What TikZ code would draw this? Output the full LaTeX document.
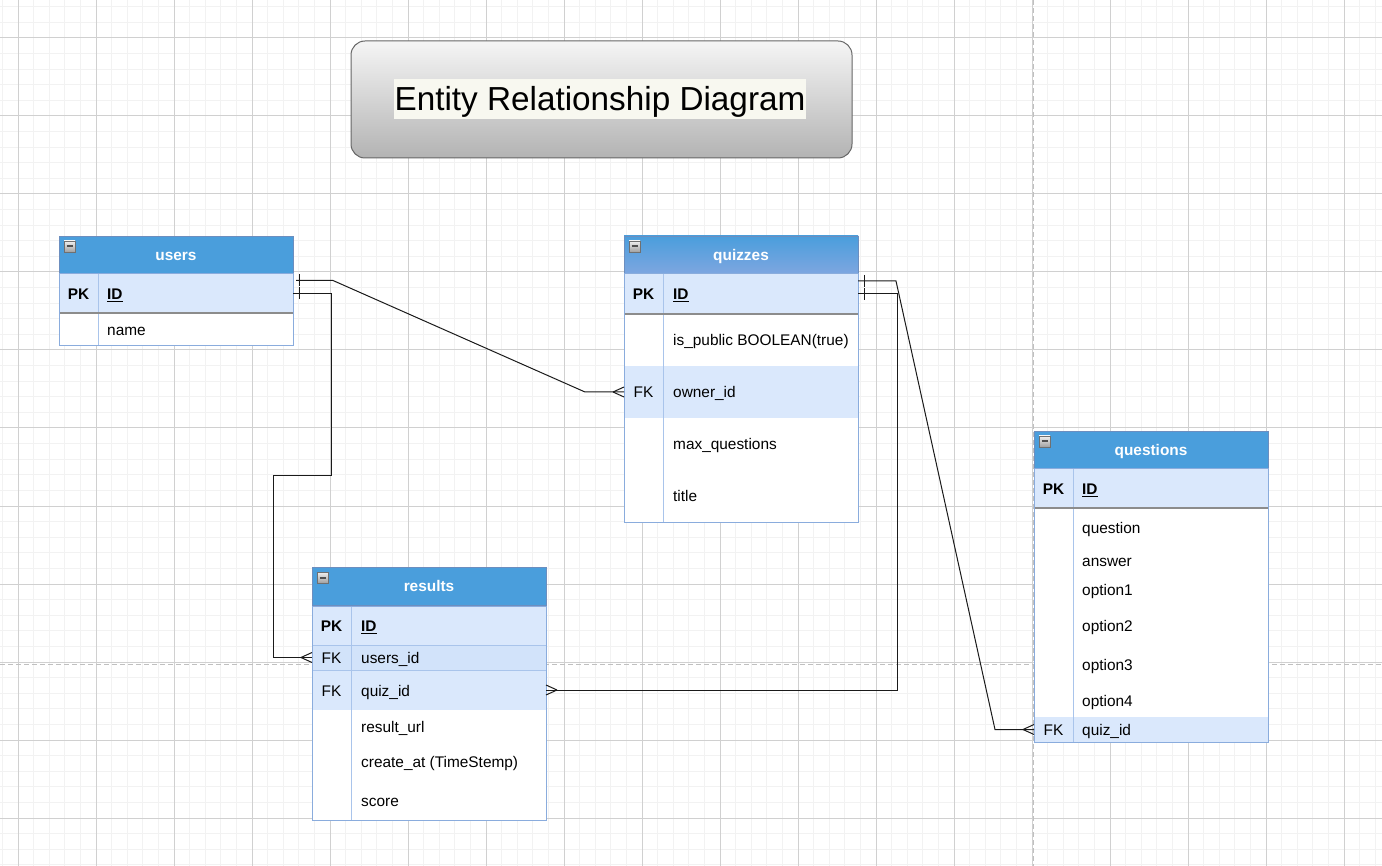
\documentclass[tikz,border=0pt]{standalone}
\usepackage{fontspec}
\setmainfont{Liberation Sans}
\begin{document}
\begin{tikzpicture}[x=1pt,y=-1pt,
  minorgrid/.style={line width=1pt, custcol_f2_f2_f2},
  majorgrid/.style={line width=1pt, custcol_d0_d0_d0},
  pagebreak/.style={line width=1pt, custcol_c0_c0_c0, dash pattern=on 5pt off 3pt},
  hdr/.style={rectangle, anchor=north west, inner sep=0, outer sep=0, minimum width=234pt, minimum height=38pt, fill=custcol_4a_9e_dc, draw=custcol_6c_8e_bf, text=white, text height=10.7pt, text depth=0pt, font=\fontsize{15.4}{18}\selectfont\bfseries},
  row/.style={rectangle, anchor=north west, inner sep=0, outer sep=0, minimum width=234pt, fill=white},
  keyrow/.style={row, fill=custcol_da_e8_fc},
  keytxt/.style={inner sep=0, text height=10.7pt, text depth=0pt, font=\fontsize{15.4}{18}\selectfont},
  fldtxt/.style={keytxt, anchor=west},
  tabline/.style={line width=1pt, custcol_a9_c4_eb},
  pkline/.style={line width=1.2pt, custcol_8c_8c_8c},
  tabframe/.style={line width=1pt, custcol_8a_ac_dd},
  rel/.style={line width=1pt, custcol_1a_1a_1a},
  onebar/.pic={\draw[rel] (6,-6) -- (6,6);},
  crowfoot/.pic={\draw[rel] (-11,0) -- (0,-5) (-11,0) -- (0,5);},
  minusbtn/.pic={\draw[line width=0.8pt, custcol_70_70_70, top color=custcol_f0_f0_f0, bottom color=custcol_a0_a0_a0] (5,5) rectangle (16,16);
                 \draw[line width=2pt, custcol_50_50_50] (7.5,10.5) -- (13.5,10.5);}]
\definecolor{custcol_f0_f0_f0}{RGB}{240, 240, 240}
\definecolor{custcol_f2_f2_f2}{RGB}{242, 242, 242}
\definecolor{custcol_d0_d0_d0}{RGB}{208, 208, 208}
\definecolor{custcol_c0_c0_c0}{RGB}{192, 192, 192}
\definecolor{custcol_4a_9e_dc}{RGB}{74, 158, 220}
\definecolor{custcol_7e_a6_e0}{RGB}{126, 166, 224}
\definecolor{custcol_6c_8e_bf}{RGB}{108, 142, 191}
\definecolor{custcol_da_e8_fc}{RGB}{218, 232, 252}
\definecolor{custcol_d2_e3_fa}{RGB}{210, 227, 250}
\definecolor{custcol_a9_c4_eb}{RGB}{169, 196, 235}
\definecolor{custcol_8c_8c_8c}{RGB}{140, 140, 140}
\definecolor{custcol_8a_ac_dd}{RGB}{138, 172, 221}
\definecolor{custcol_1a_1a_1a}{RGB}{26, 26, 26}
\definecolor{custcol_70_70_70}{RGB}{112, 112, 112}
\definecolor{custcol_50_50_50}{RGB}{80, 80, 80}
\definecolor{custcol_a0_a0_a0}{RGB}{160, 160, 160}
\definecolor{custcol_f5_f5_f5}{RGB}{245, 245, 245}
\definecolor{custcol_b3_b3_b3}{RGB}{179, 179, 179}
\definecolor{custcol_66_66_66}{RGB}{102, 102, 102}
\definecolor{custcol_f8_f8_f0}{RGB}{248, 248, 240}
\useasboundingbox (0,0) rectangle (1382,866);
\fill[white] (0,0) rectangle (1382,866);
% grid
\foreach \k in {-1,...,88} \draw[minorgrid] ({18+15.6*\k},0) -- ++(0,866);
\foreach \k in {-2,...,53} \draw[minorgrid] (0,{38+15.6*\k}) -- ++(1382,0);
\foreach \k in {0,...,17} \draw[majorgrid] ({18+78*\k},0) -- ++(0,866);
\foreach \k in {0,...,10} \draw[majorgrid] (0,{38+78*\k}) -- ++(1382,0);
\draw[pagebreak] (1033,0) -- (1033,866);
\draw[pagebreak] (0,664) -- (1382,664);
% title
\node[rectangle, rounded corners=14pt, minimum width=501pt, minimum height=117pt, line width=1pt, draw=custcol_66_66_66, top color=custcol_f5_f5_f5, bottom color=custcol_b3_b3_b3] (titleBox) at (601.5,99.5) {};
\node[fill=custcol_f8_f8_f0, inner xsep=1pt, inner ysep=0, minimum height=40pt, text height=24pt, text depth=0pt, font=\fontsize{33.3}{40}\selectfont] (title) at (600,99) {Entity Relationship Diagram};
% users
\node[hdr] (usersHdr) at (59,236) {users};
\node[keyrow, minimum height=39pt] (usersID) at (59,274) {};
\node[row, minimum height=33pt] (usersName) at (59,313) {};
\draw[tabline] (98,274) -- (98,346);
\draw[pkline] (59,313) -- (293,313);
\draw[tabframe] (59,274) rectangle (293,346);
\pic at (usersHdr.north west) {minusbtn};
\node[keytxt] at (78.5,294) {\textbf{PK}};
\node[fldtxt] at (107,294) {\textbf{\underline{ID}}};
\node[fldtxt] at (107,330) {name};
% quizzes
\node[hdr, top color=custcol_4a_9e_dc, bottom color=custcol_7e_a6_e0] (quizHdr) at (624,236) {quizzes};
\node[keyrow, minimum height=40pt] (quizID) at (624,274) {};
\node[row, minimum height=52pt] (quizPublic) at (624,314) {};
\node[keyrow, minimum height=52pt] (quizOwner) at (624,366) {};
\node[row, minimum height=52pt] (quizMax) at (624,418) {};
\node[row, minimum height=52pt] (quizTitle) at (624,470) {};
\draw[tabline] (663,274) -- (663,522);
\draw[pkline] (624,314) -- (858,314);
\draw[tabframe] (624,274) rectangle (858,522);
\pic at (quizHdr.north west) {minusbtn};
\node[keytxt] at (643.5,294) {\textbf{PK}};
\node[fldtxt] at (673,294) {\textbf{\underline{ID}}};
\node[fldtxt] at (673,340) {is\_public BOOLEAN(true)};
\node[keytxt] at (643.5,392) {FK};
\node[fldtxt] at (673,392) {owner\_id};
\node[fldtxt] at (673,444) {max\_questions};
\node[fldtxt] at (673,496) {title};
% questions
\node[hdr] (qHdr) at (1034,431) {questions};
\node[keyrow, minimum height=39pt] (qID) at (1034,469) {};
\node[row, minimum height=209pt] (qBody) at (1034,508) {};
\node[keyrow, minimum height=25pt] (qQuiz) at (1034,717) {};
\draw[tabline] (1073,469) -- (1073,742);
\draw[pkline] (1034,508) -- (1268,508);
\draw[tabframe] (1034,469) rectangle (1268,742);
\pic at (qHdr.north west) {minusbtn};
\node[keytxt] at (1053.5,489) {\textbf{PK}};
\node[fldtxt] at (1082,489) {\textbf{\underline{ID}}};
\node[fldtxt] at (1082,528) {question};
\node[fldtxt] at (1082,561) {answer};
\node[fldtxt] at (1082,590) {option1};
\node[fldtxt] at (1082,626) {option2};
\node[fldtxt] at (1082,665) {option3};
\node[fldtxt] at (1082,701) {option4};
\node[keytxt] at (1053.5,730) {FK};
\node[fldtxt] at (1082,730) {quiz\_id};
% results
\node[hdr] (resHdr) at (312,567) {results};
\node[keyrow, minimum height=39pt] (resID) at (312,606) {};
\node[keyrow, fill=custcol_d2_e3_fa, minimum height=25pt] (resUsers) at (312,645) {};
\node[keyrow, minimum height=40pt] (resQuiz) at (312,670) {};
\node[row, minimum height=110pt] (resBody) at (312,710) {};
\draw[tabline] (351,606) -- (351,820);
\draw[tabline] (312,645) -- (546,645) (312,670) -- (546,670);
\draw[tabframe] (312,606) rectangle (546,820);
\pic at (resHdr.north west) {minusbtn};
\node[keytxt] at (331.5,626) {\textbf{PK}};
\node[fldtxt] at (361,626) {\textbf{\underline{ID}}};
\node[keytxt] at (331.5,658) {FK};
\node[fldtxt] at (361,658) {users\_id};
\node[keytxt] at (331.5,691) {FK};
\node[fldtxt] at (361,691) {quiz\_id};
\node[fldtxt] at (361,727) {result\_url};
\node[fldtxt] at (361,762) {create\_at (TimeStemp)};
\node[fldtxt] at (361,801) {score};
% relations
\draw[rel] ([xshift=3pt,yshift=13pt]usersID.east) -- ++(37,0) -- ([xshift=-39pt]quizOwner.west) -- (quizOwner.west);
\pic at ([yshift=13pt]usersID.east) {onebar};
\pic at (quizOwner.west) {crowfoot};
\draw[rel] (usersID.east) -- ++(38,0) -- ++(0,182) -- ++(-58,0) |- (resUsers.west);
\pic at (usersID.east) {onebar};
\pic at (resUsers.west) {crowfoot};
\draw[rel] ([yshift=13pt]quizID.east) -- ++(38,0) -- ([xshift=-39pt]qQuiz.west) -- (qQuiz.west);
\pic at ([yshift=13pt]quizID.east) {onebar};
\pic at (qQuiz.west) {crowfoot};
\draw[rel] (quizID.east) -- ++(39,0) |- (resQuiz.east);
\pic at (quizID.east) {onebar};
\pic[xscale=-1] at (resQuiz.east) {crowfoot};
\end{tikzpicture}
\end{document}
